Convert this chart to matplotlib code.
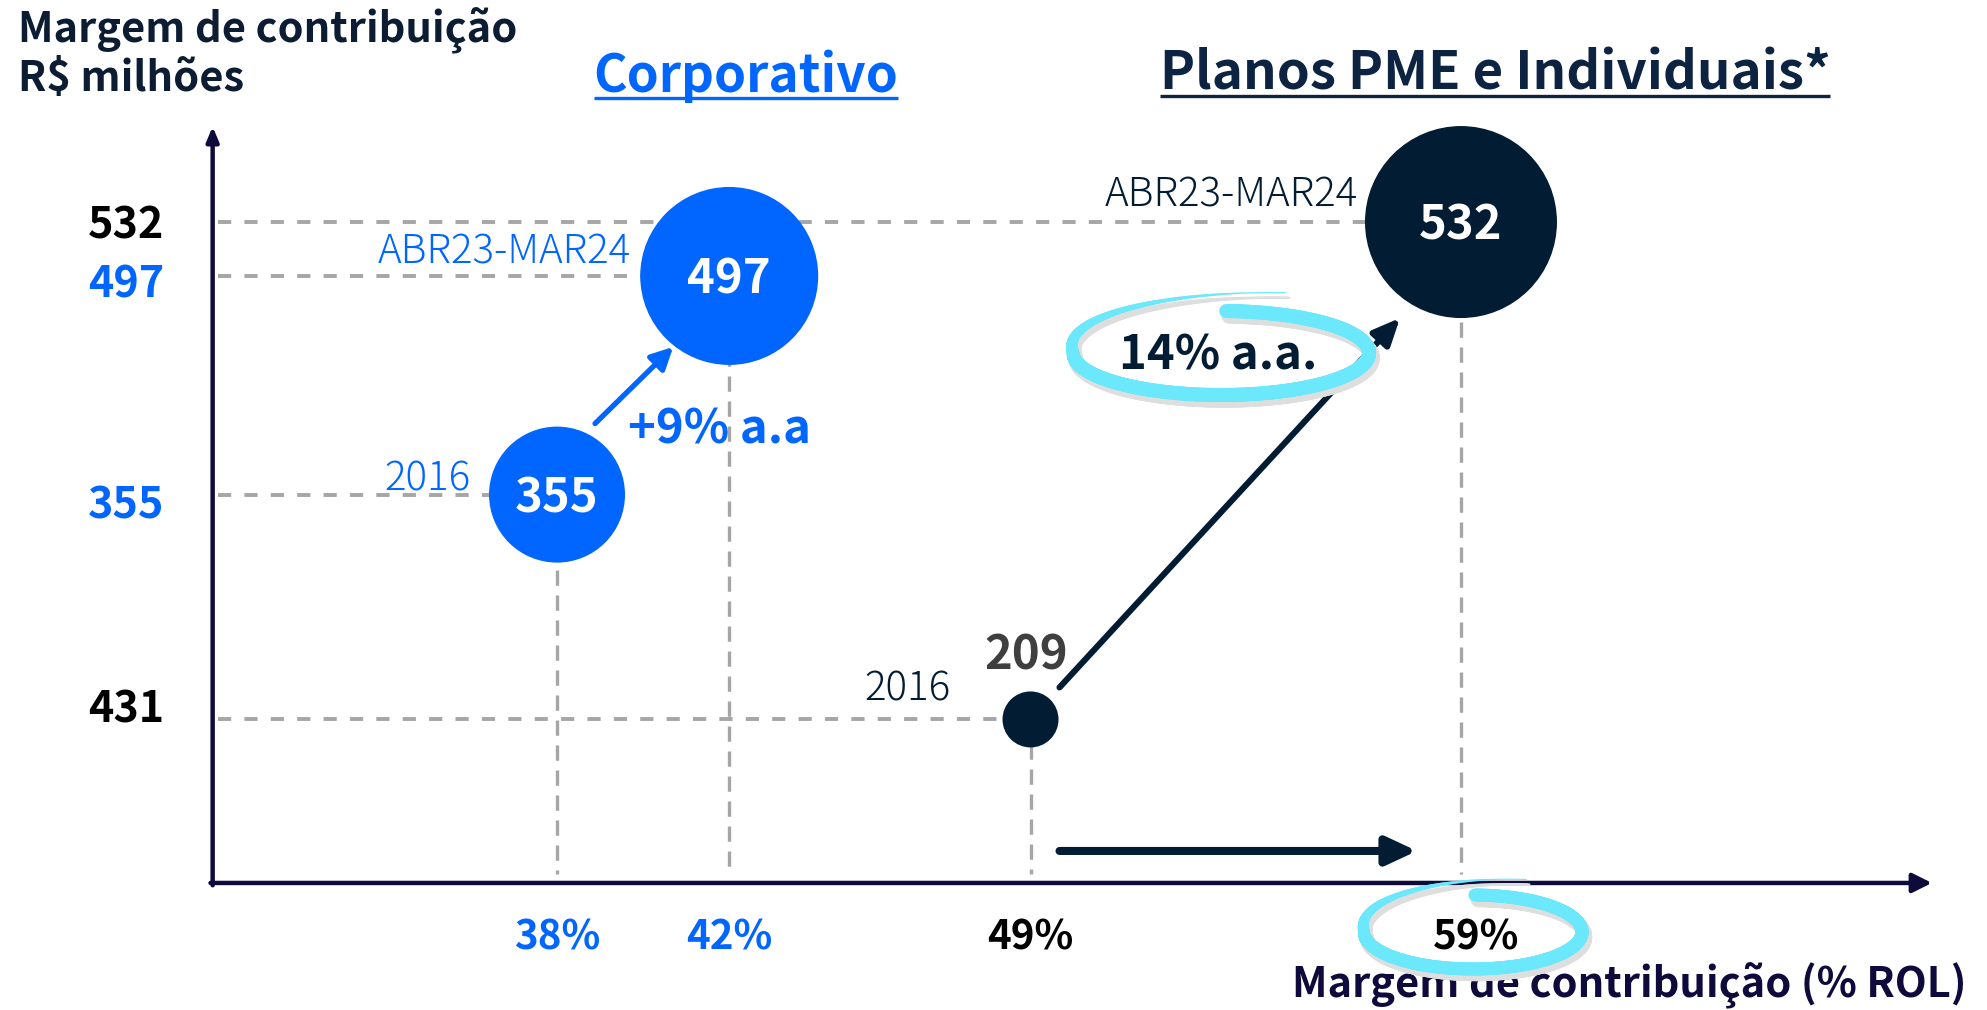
import numpy as np
import matplotlib.pyplot as plt
from matplotlib import font_manager
from matplotlib.collections import LineCollection
from matplotlib.transforms import offset_copy

names = {f.name for f in font_manager.fontManager.ttflist}
base = 'Noto Sans CJK JP' if 'Noto Sans CJK JP' in names else 'DejaVu Sans'
plt.rcParams['font.family'] = [base, 'DejaVu Sans']
plt.rcParams['lines.scale_dashes'] = False

# data
periods = ['2016', 'ABR23-MAR24', '2016', 'ABR23-MAR24']
margem_pct = [38, 42, 49, 59]
margem_rs = [355, 497, 209, 532]
y_tick_vals = [532, 497, 355, 209]
y_tick_labels = ['532', '497', '355', '431']
x_tick_labels = ['38%', '42%', '49%', '59%']
growth_labels = ['+9% a.a', '14% a.a.']

blue = '#0066ff'
navy = '#021c33'
axis_c = '#0e0a3c'
cyan = '#6be8fb'
grey = '#a6a6a6'
point_colors = [blue, blue, navy, navy]
y_tick_colors = ['black', blue, blue, 'black']
x_tick_colors = [blue, blue, 'black', 'black']
radius_px = [68, 89, 28, 96]
PT = 0.72  # points per pixel at 100 dpi

fig = plt.figure(figsize=(19.87, 10.10), dpi=100)
ax = fig.add_axes([0, 0, 1, 1], zorder=1)
ax.set_xlim(25.06, 71.22)
ax.set_ylim(20.3, 676.2)
ax.axis('off')

x0, y0 = 30.0, 102.8

# axes with arrow heads
ax.annotate('', xy=(69.94, y0), xytext=(x0 - 0.05, y0),
            arrowprops=dict(arrowstyle='-|>,head_length=0.58,head_width=0.29', color=axis_c,
                            lw=3.2, mutation_scale=20, shrinkA=0, shrinkB=0), zorder=2)
ax.annotate('', xy=(x0, 594), xytext=(x0, y0 - 1.5),
            arrowprops=dict(arrowstyle='-|>,head_length=0.43,head_width=0.18', color=axis_c,
                            lw=3.2, mutation_scale=20, shrinkA=0, shrinkB=0), zorder=2)

# guide lines
for p, v in zip(margem_pct, margem_rs):
    ax.plot([x0 + 0.12, p], [v, v], color=grey, lw=2.8, dashes=(9.5, 9.5), zorder=1)
    ax.plot([p, p], [v, 108.5], color=grey, lw=2.4, dashes=(11, 7), zorder=1)

# bubbles
sizes = [(2 * r * PT) ** 2 for r in radius_px]
ax.scatter(margem_pct, margem_rs, s=sizes, c=point_colors, linewidths=0, zorder=3)

for i, (p, v) in enumerate(zip(margem_pct, margem_rs)):
    if radius_px[i] > 50:
        ax.annotate(str(v), xy=(p, v), xytext=(0, -17.5 * PT), textcoords='offset points',
                    ha='center', va='baseline', color='white', fontsize=34, fontweight='bold', zorder=4)
    else:
        ax.annotate(str(v), xy=(p, v), xytext=(-4 * PT, 50 * PT), textcoords='offset points',
                    ha='center', va='baseline', color='#3f3f3f', fontsize=34, fontweight='bold', zorder=4)

period_offsets = [(-86, 4), (-98, 12), (-80, 19), (-103, 16)]
for p, v, lab, c, (dx, dy) in zip(margem_pct, margem_rs, periods, point_colors, period_offsets):
    ax.annotate(lab, xy=(p, v), xytext=(dx * PT, dy * PT), textcoords='offset points',
                ha='right', va='baseline', color=c, fontsize=29, fontweight='light', zorder=4)

# tick labels
y_nudge = [0, -6, -8, 13]
for v, lab, c, n in zip(y_tick_vals, y_tick_labels, y_tick_colors, y_nudge):
    ax.annotate(lab, xy=(x0, v), xytext=(-48 * PT, (-16 + n) * PT), textcoords='offset points',
                ha='right', va='baseline', color=c, fontsize=31, fontweight='bold')
x_nudge = [0, 0, 0, 15]
for p, lab, c, n in zip(margem_pct, x_tick_labels, x_tick_colors, x_nudge):
    ax.annotate(lab, xy=(p, y0), xytext=(n * PT, -67 * PT), textcoords='offset points',
                ha='center', va='baseline', color=c, fontsize=29, fontweight='bold')

# growth arrows
ax.annotate('', xy=(margem_pct[1], margem_rs[1]), xytext=(margem_pct[0], margem_rs[0]),
            xycoords=offset_copy(ax.transData, fig=fig, x=-56, y=-71, units='dots'),
            textcoords=offset_copy(ax.transData, fig=fig, x=38, y=71, units='dots'),
            arrowprops=dict(arrowstyle='-|>,head_length=0.65,head_width=0.33', color=blue,
                            lw=3.8, mutation_scale=20, shrinkA=0, shrinkB=0), zorder=2)
ax.annotate('', xy=(margem_pct[3], margem_rs[3]), xytext=(margem_pct[2], margem_rs[2]),
            xycoords=offset_copy(ax.transData, fig=fig, x=-61, y=-96, units='dots'),
            textcoords=offset_copy(ax.transData, fig=fig, x=29, y=32, units='dots'),
            arrowprops=dict(arrowstyle='-|>,head_length=0.8,head_width=0.36', color=navy,
                            lw=4.4, mutation_scale=20, shrinkA=0, shrinkB=0), zorder=2)
ax.annotate('', xy=(margem_pct[3], y0), xytext=(margem_pct[2], y0),
            xycoords=offset_copy(ax.transData, fig=fig, x=-44, y=32, units='dots'),
            textcoords=offset_copy(ax.transData, fig=fig, x=29, y=32, units='dots'),
            arrowprops=dict(arrowstyle='-|>,head_length=0.9,head_width=0.42', color=navy,
                            lw=5.8, mutation_scale=20, shrinkA=0, shrinkB=0), zorder=2)

# overlay in pixel coordinates for titles and highlights
axd = fig.add_axes([0, 0, 1, 1], zorder=2)
axd.set_xlim(0, 1987)
axd.set_ylim(1010, 0)
axd.axis('off')
axd.patch.set_alpha(0)

axd.text(18, 41, 'Margem de contribuição', color='#0b1c33', fontsize=30, fontweight='bold', va='baseline')
axd.text(18, 91, 'R$ milhões', color='#0b1c33', fontsize=30, fontweight='bold', va='baseline')
t1 = axd.text(746, 92, 'Corporativo', color=blue, fontsize=37, fontweight='bold', ha='center', va='baseline')
t2 = axd.text(1495, 90, 'Planos PME e Individuais*', color='#0c2341', fontsize=38, fontweight='bold',
              ha='center', va='baseline')
axd.text(719, 443, growth_labels[0], color=blue, fontsize=34, fontweight='bold', ha='center', va='baseline')
axd.text(1218, 370, growth_labels[1], color=navy, fontsize=34, fontweight='bold', ha='center', va='baseline')
axd.text(1966, 996, 'Margem de contribuição (% ROL)', color=axis_c, fontsize=30, fontweight='bold',
         ha='right', va='baseline', zorder=3)


def loop(cx, cy, a, b, th0, th1, wmax):
    deg = np.linspace(th0, th1, 500)
    th = np.radians(deg)
    s = 1 + 0.5 * np.clip((180 - deg) / (180 - th0), 0, 1) ** 1.3
    x = cx + s * a * np.cos(th)
    y = cy - s * b * np.sin(th)
    w = wmax * np.clip((deg - th0) / 120, 0.08, 1)
    pts = np.column_stack([x, y]).reshape(-1, 1, 2)
    segs = np.concatenate([pts[:-1], pts[1:]], axis=1)
    axd.add_collection(LineCollection(segs + np.array([3, 5]), linewidths=w[:-1] * PT + 1,
                                      colors='#dedede', capstyle='round', zorder=4))
    axd.add_collection(LineCollection(segs, linewidths=w[:-1] * PT, colors=cyan,
                                      capstyle='round', zorder=5))


loop(1221, 353, 148, 42, 73, 448, 14)
loop(1473, 932, 109, 37, 71, 449, 13)

fig.canvas.draw()
r = fig.canvas.get_renderer()
inv = axd.transData.inverted()
for t, yy, c in [(t1, 98, blue), (t2, 96, '#0c2341')]:
    bb = t.get_window_extent(r)
    xa = inv.transform((bb.x0, 0))[0]
    xb = inv.transform((bb.x1, 0))[0]
    axd.plot([xa, xb], [yy, yy], color=c, lw=2.4, solid_capstyle='butt')

fig.savefig('out.png', dpi=100, facecolor='white')
